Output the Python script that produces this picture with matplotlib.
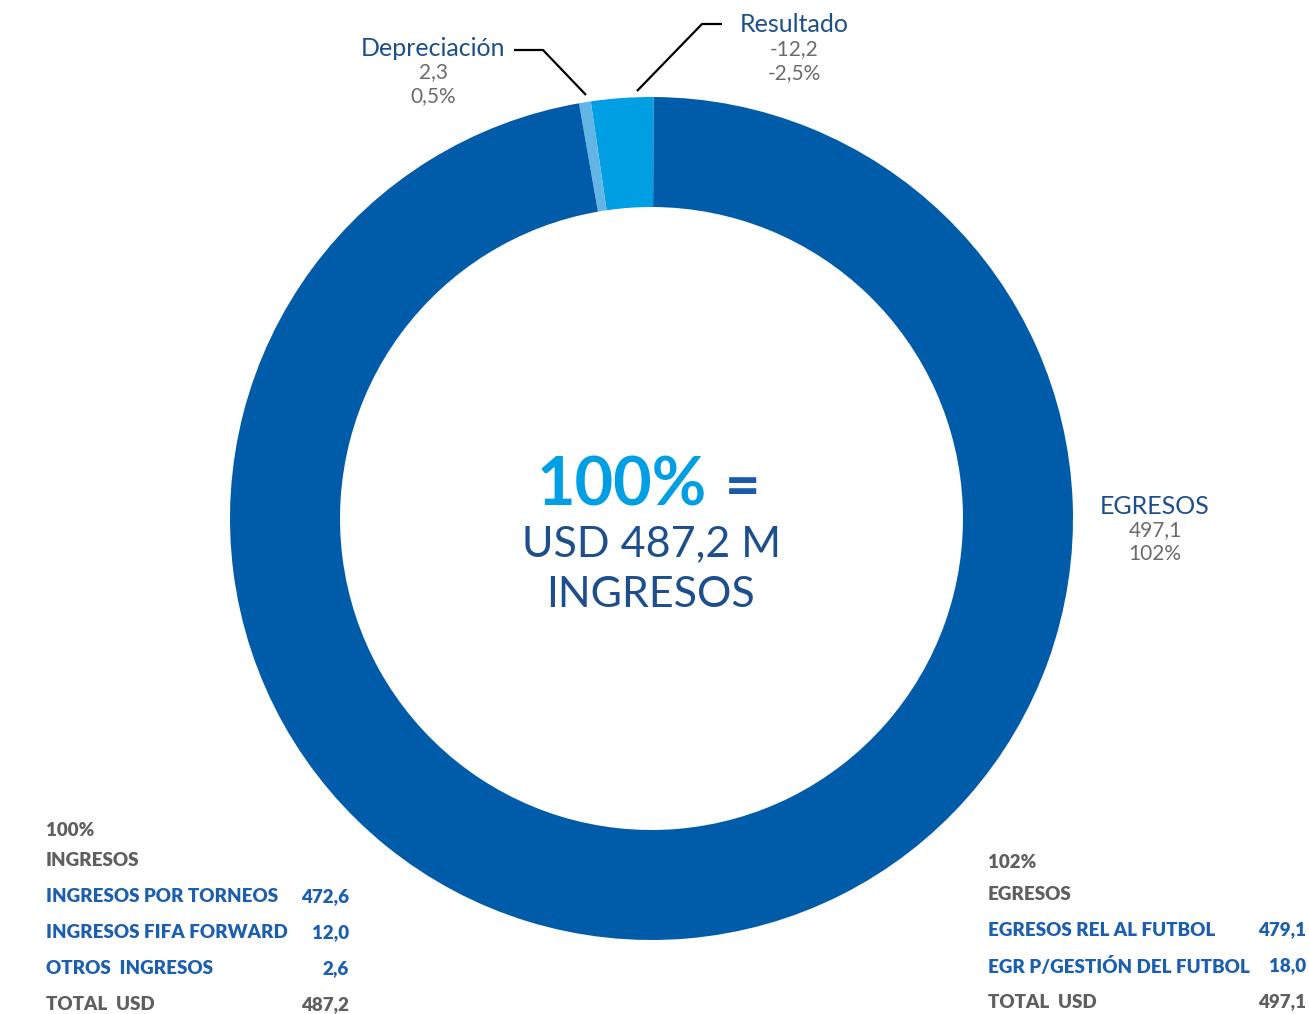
import matplotlib
matplotlib.use("Agg")
import matplotlib.pyplot as plt

# ---- data ----
seg_labels = ["Resultado", "Depreciación", "EGRESOS"]
seg_values = [12.2, 2.3, 497.1]
seg_value_text = ["-12,2", "2,3", "497,1"]
seg_pct_text = ["-2,5%", "0,5%", "102%"]
seg_colors = ["#009fe3", "#62b6e6", "#005ca9"]

center_big = "100%"
center_line2 = "USD 487,2 M"
center_line3 = "INGRESOS"

ing_header = ["100%", "INGRESOS"]
ing_items = ["INGRESOS POR TORNEOS", "INGRESOS FIFA FORWARD", "OTROS  INGRESOS"]
ing_values = ["472,6", "12,0", "2,6"]
ing_total = ("TOTAL  USD", "487,2")

egr_header = ["102%", "EGRESOS"]
egr_items = ["EGRESOS REL AL FUTBOL", "EGR P/GESTIÓN DEL FUTBOL"]
egr_values = ["479,1", "18,0"]
egr_total = ("TOTAL  USD", "497,1")

# ---- layout ----
W, H = 1309, 1014
NAVY = "#1d4f8c"
GRAY = "#6b6b6b"
TBLUE = "#1c5fae"
TGRAY = "#5f5f5f"
FONT = "Lato"

fig = plt.figure(figsize=(W / 100, H / 100), dpi=100)
ax = fig.add_axes([0, 0, 1, 1])
ax.set_xlim(0, W)
ax.set_ylim(0, H)
ax.set_aspect("equal")
ax.axis("off")

def Y(y):
    return H - y

cx, cy, R = 651.5, 518.5, 421.5
ax.pie(seg_values, colors=seg_colors, startangle=89.7, counterclock=True,
       center=(cx, Y(cy)), radius=R,
       wedgeprops=dict(width=R * 0.261, linewidth=0))
ax.set_xlim(0, W)
ax.set_ylim(0, H)

# center text
ax.text(622, Y(486), center_big, color="#009fe3", fontsize=48, fontweight="bold",
        family=FONT, ha="center", va="center")
ax.text(743, Y(488), "=", color="#1a5aa6", fontsize=44, fontweight="bold",
        family=FONT, ha="center", va="center")
ax.text(651, Y(544), center_line2, color=NAVY, fontsize=31, fontweight="normal",
        family=FONT, ha="center", va="center")
ax.text(651, Y(595), center_line3, color=NAVY, fontsize=31, fontweight="normal",
        family=FONT, ha="center", va="center")

# segment labels
label_pos = {"Resultado": (794, 25), "Depreciación": (433, 48), "EGRESOS": (1155, 506)}
for lab, vt, pt in zip(seg_labels, seg_value_text, seg_pct_text):
    x, y = label_pos[lab]
    ax.text(x, Y(y), lab, color=NAVY, fontsize=18, family=FONT, ha="center", va="center")
    ax.text(x, Y(y + 24), vt, color=GRAY, fontsize=15, family=FONT, ha="center", va="center")
    ax.text(x, Y(y + 48), pt, color=GRAY, fontsize=15, family=FONT, ha="center", va="center")

# leader lines
ax.plot([514, 543, 586], [Y(50), Y(50), Y(95)], color="black", lw=1.6, solid_capstyle="butt")
ax.plot([637, 702, 722], [Y(91), Y(24), Y(24)], color="black", lw=1.6, solid_capstyle="butt")

# tables
FS = 13.5
def tx(x, y, s, color, ha):
    ax.text(x, Y(y), s, color=color, fontsize=FS, fontweight="heavy",
            family=FONT, ha=ha, va="center")

def table(x0, xr, y0, header, items, values, total):
    y = y0
    tx(x0, y, header[0], TGRAY, "left")
    y += 31
    tx(x0, y, header[1], TGRAY, "left")
    for it, v in zip(items, values):
        y += 36
        tx(x0, y, it, TBLUE, "left")
        tx(xr, y, v, TBLUE, "right")
    y += 36
    tx(x0, y, total[0], TGRAY, "left")
    tx(xr, y, total[1], TGRAY, "right")

table(46, 349, 830, ing_header, ing_items, ing_values, ing_total)
table(988, 1306, 863, egr_header, egr_items, egr_values, egr_total)

fig.savefig("out.png", dpi=100)
